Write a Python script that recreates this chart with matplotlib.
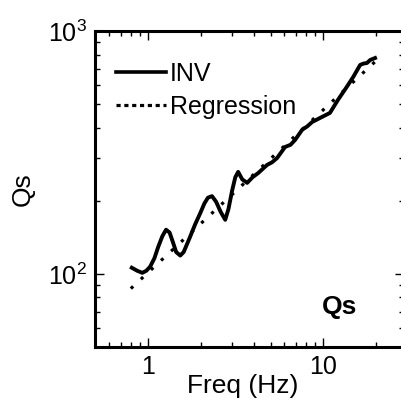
import matplotlib
matplotlib.use("Agg")
import matplotlib.pyplot as plt
from matplotlib.lines import Line2D
from matplotlib.ticker import LogLocator, FuncFormatter, NullFormatter

plt.rcParams["font.family"] = ["Liberation Sans", "DejaVu Sans"]
plt.rcParams["mathtext.fontset"] = "custom"
plt.rcParams["mathtext.rm"] = "Liberation Sans"
plt.rcParams["mathtext.it"] = "Liberation Sans:italic"
plt.rcParams["mathtext.bf"] = "Liberation Sans:bold"

# Inverted Qs as a function of frequency
inv_freq = [0.81, 0.87, 0.93, 0.98, 1.03, 1.09, 1.145, 1.21, 1.27, 1.33, 1.39,
            1.45, 1.53, 1.60, 1.74, 1.86, 1.99, 2.10, 2.20, 2.32, 2.45, 2.60,
            2.76, 2.88, 3.02, 3.15, 3.27, 3.45, 3.68, 3.95, 4.25, 4.78, 5.10,
            5.45, 6.05, 6.50, 6.90, 7.57, 8.10, 8.63, 9.84, 10.9, 12.1, 13.6,
            14.8, 16.2, 17.0, 17.7, 18.5, 19.7]
inv_q = [106, 103, 101, 103, 107, 116, 129, 143, 152, 148, 135,
         123, 119, 123, 142, 160, 178, 195, 206, 209, 198, 180,
         167, 185, 220, 250, 263, 245, 237, 250, 260, 281, 288,
         300, 333, 340, 356, 392, 405, 422, 443, 460, 520, 589,
         647, 725, 735, 738, 760, 774]

# Power-law regression end points (straight line in log-log space)
reg_freq = [0.80, 20.0]
reg_q = [87, 755]

x_limits = (0.5, 28.8)
y_limits = (50, 1000)

fig = plt.figure(figsize=(4.01, 4.03), dpi=100)
ax = fig.add_axes([95 / 401, 56 / 403, 309 / 401, 316 / 403])

ax.plot(inv_freq, inv_q, color="black", lw=2.8, solid_joinstyle="round")
ax.plot(reg_freq, reg_q, color="black", lw=2.3, linestyle=(0, (1.0, 3.3)))

ax.set_xscale("log")
ax.set_yscale("log")
ax.set_xlim(*x_limits)
ax.set_ylim(*y_limits)

ax.xaxis.set_major_locator(LogLocator(base=10, numticks=10))
ax.xaxis.set_minor_locator(LogLocator(base=10, subs=range(2, 10), numticks=20))
ax.xaxis.set_major_formatter(FuncFormatter(lambda v, p: f"{v:g}"))
ax.xaxis.set_minor_formatter(NullFormatter())
ax.yaxis.set_minor_formatter(NullFormatter())

for side in ax.spines.values():
    side.set_linewidth(2.2)

ax.tick_params(which="both", direction="in", top=True, right=True,
               labelsize=18, width=1.0, pad=6)
ax.tick_params(which="major", length=6.5)
ax.tick_params(which="minor", length=3.3)

ax.set_xlabel("Freq (Hz)", fontsize=19)
ax.xaxis.set_label_coords((243 - 95) / 309, -0.085)
ax.set_ylabel("Qs", fontsize=19, labelpad=9)

ax.text(0.793, 0.127, "Qs", transform=ax.transAxes, fontsize=19,
        fontweight="bold", ha="center", va="center")

handles = [Line2D([], [], color="black", lw=2.6),
           Line2D([], [], color="black", lw=2.3, linestyle=(0, (1.3, 1.15)))]
ax.legend(handles, ["INV", "Regression"], loc="upper left",
          bbox_to_anchor=(0.068, 0.902), frameon=False, fontsize=18,
          borderpad=0, borderaxespad=0, handlelength=2.0,
          handletextpad=0.16, labelspacing=0.36)

fig.savefig("out.png", dpi=100)
